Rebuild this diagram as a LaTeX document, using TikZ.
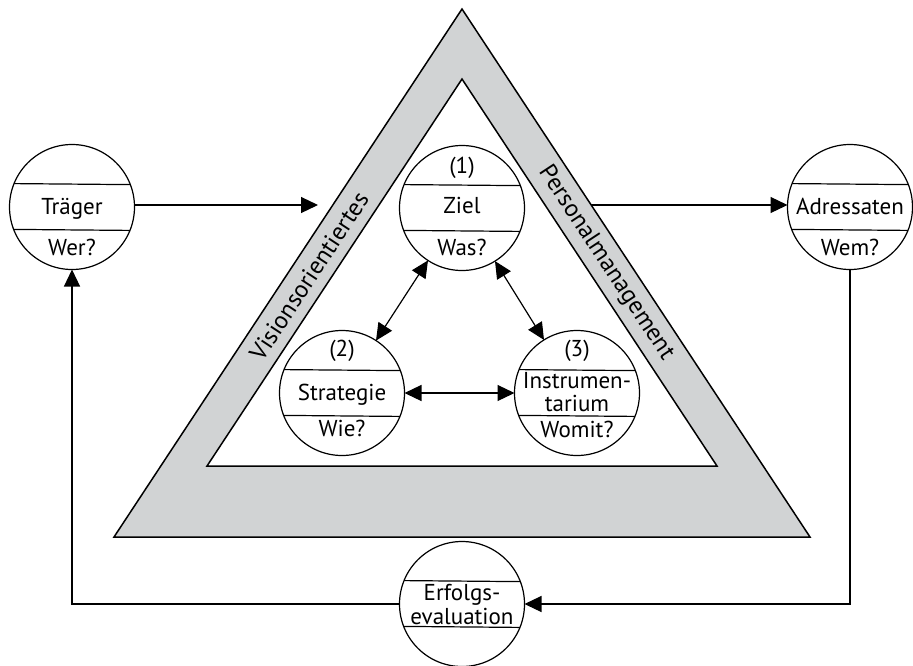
\documentclass[tikz,border=0pt]{standalone}
\usepackage{fontspec}
\setmainfont{PT Sans}
\usetikzlibrary{arrows.meta,calc}
\definecolor{bandgray}{RGB}{209,211,212}
\begin{document}
\begin{tikzpicture}[x=1pt,y=-1pt,
  font=\fontsize{23}{26}\selectfont,
  circ/.style={circle,draw,line width=1.2pt,fill=white,minimum size=125pt,inner sep=0pt,outer sep=0pt},
  chord/.style={line width=1.2pt},
  lbl/.style={anchor=base,inner sep=0pt},
  bandlbl/.style={inner sep=0pt,font=\fontsize{24.5}{27}\selectfont},
  edge/.style={line width=1.5pt,line join=miter},
  arr/.style={line width=1.2pt,-{Triangle[length=17pt,width=16pt]}},
  darr/.style={line width=1.2pt,{Triangle[length=17pt,width=16pt]}-{Triangle[length=17pt,width=16pt]}}]
\useasboundingbox (0,0) rectangle (913,665);
% triangle band
\coordinate (oA) at (462,9);
\coordinate (oB) at (810,537);
\coordinate (oC) at (114,537);
\coordinate (iA) at (462,79);
\coordinate (iB) at (717,466);
\coordinate (iC) at (207,466);
\filldraw[edge,fill=bandgray] (oA) -- (oB) -- (oC) -- cycle;
\filldraw[edge,fill=white] (iA) -- (iB) -- (iC) -- cycle;
\node[bandlbl,rotate=56.6] (vis) at (309,276) {Visionsorientiertes};
\node[bandlbl,rotate=-56.6] (pers) at (606,263) {Personalmanagement};
% circles
\node[circ] (tr) at (72,207) {};
\node[circ] (ad) at (850,207) {};
\node[circ] (zi) at (462,208) {};
\node[circ] (st) at (342,393) {};
\node[circ] (in) at (577,393) {};
\node[circ] (ev) at (462,604) {};
\foreach \c in {tr,ad,zi,st,in,ev}{
  \draw[chord] (\c.158.4) -- (\c.21.6) (\c.201.6) -- (\c.338.4);
}
% texts
\node[lbl] (trA) at (72,214) {Träger};
\node[lbl] (trB) at (72,255) {Wer?};
\node[lbl] (adA) at (850,214) {Adressaten};
\node[lbl] (adB) at (850,255) {Wem?};
\node[lbl] (ziN) at (462,173) {(1)};
\node[lbl] (ziA) at (462,213) {Ziel};
\node[lbl] (ziB) at (462,255) {Was?};
\node[lbl] (stN) at (342,356) {(2)};
\node[lbl] (stA) at (342,400) {Strategie};
\node[lbl] (stB) at (342,436) {Wie?};
\node[lbl] (inN) at (577,356) {(3)};
\node[lbl] (inA) at (577,388) {Instrumen-};
\node[lbl] (inC) at (577,411) {tarium};
\node[lbl] (inB) at (577,437) {Womit?};
\node[lbl] (evA) at (462,600) {Erfolgs-};
\node[lbl] (evB) at (462,624) {evaluation};
% connectors
\coordinate (ta) at (318,205);
\coordinate (pa) at (591,205);
\draw[arr] (tr.east |- ta) -- (ta);
\draw[arr] (pa) -- (ad.west |- pa);
\draw[darr] (zi) -- (st);
\draw[darr] (zi) -- (in);
\draw[darr] (st) -- (in);
\draw[arr] (ad.south) |- (ev.east);
\draw[arr] (ev.west) -| (tr.south);
\end{tikzpicture}
\end{document}
